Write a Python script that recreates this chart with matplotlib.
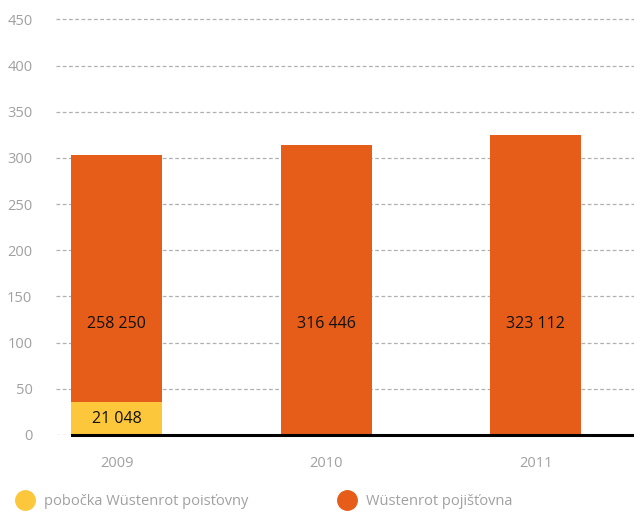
import matplotlib.pyplot as plt
from matplotlib.lines import Line2D

# hodnoty (výška sloupců) a popisky
years = ['2009', '2010', '2011']
pobocka = [35.6, 0, 0]
pojistovna = [267.4, 314, 325]
pobocka_labels = ['21 048', '', '']
pojistovna_labels = ['258 250', '316 446', '323 112']
yticks = [0, 50, 100, 150, 200, 250, 300, 350, 400, 450]

YELLOW = '#FDC73B'
ORANGE = '#E65D19'
GRAY = '#a0a0a0'

plt.rcParams['font.family'] = ['Open Sans', 'DejaVu Sans']

fig = plt.figure(figsize=(6.34, 5.12), dpi=100)
ax = fig.add_axes([56 / 634, (512 - 435) / 512, 578 / 634, 434 / 512])

x = range(len(years))
w = 0.434
ax.bar(x, pobocka, width=w, color=YELLOW, zorder=2)
ax.bar(x, pojistovna, width=w, bottom=pobocka, color=ORANGE, zorder=2)

for i in x:
    if pobocka_labels[i]:
        ax.text(i, pobocka[i] / 2, pobocka_labels[i], ha='center', va='center',
                fontsize=11.5, color='#111111', zorder=3)
    ax.text(i, 120, pojistovna_labels[i], ha='center', va='center',
            fontsize=11.5, color='#111111', zorder=3)

ax.set_xlim(-0.291, 2.47)
ax.set_ylim(0, 470)
ax.set_yticks(yticks)
ax.set_xticks(list(x))
ax.set_xticklabels(years)
ax.tick_params(axis='both', length=0, colors=GRAY, labelsize=10.5)
ax.tick_params(axis='x', pad=15)
ax.tick_params(axis='y', pad=17)

ax.yaxis.grid(True, linestyle=(0, (3, 2)), color='#b0b0b0', linewidth=0.9, zorder=0)
for s in ax.spines.values():
    s.set_visible(False)
ax.axhline(0, xmin=16 / 578, xmax=1, color='black', linewidth=2.2, zorder=4, clip_on=False)

handles = [Line2D([], [], marker='o', ls='', color=YELLOW, markersize=14),
           Line2D([], [], marker='o', ls='', color=ORANGE, markersize=14)]
fig.legend(handles, ['pobočka Wüstenrot poisťovny', 'Wüstenrot pojišťovna'],
           loc='center left', bbox_to_anchor=(0.0, (512 - 501.5) / 512),
           ncol=2, frameon=False, fontsize=10.5, labelcolor=GRAY,
           handletextpad=0.3, columnspacing=5.8, borderaxespad=0.3)

fig.savefig('out.png', dpi=100)
